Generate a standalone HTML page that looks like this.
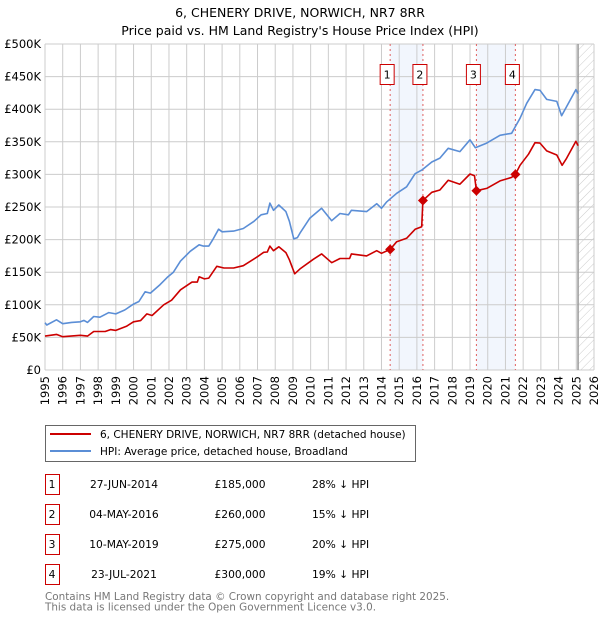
<!DOCTYPE html>
<html><head><meta charset="utf-8"><style>
body{margin:0;background:#fff;font-family:"DejaVu Sans","Liberation Sans",sans-serif;}
svg text{font-family:"DejaVu Sans","Liberation Sans",sans-serif;}
</style></head><body>
<svg id="chart" width="600" height="620" viewBox="0 0 600 620">
<defs>
<pattern id="hatch" width="6" height="6" patternUnits="userSpaceOnUse" patternTransform="rotate(45)">
<line x1="0" y1="0" x2="0" y2="6" stroke="#ccc" stroke-width="1"/>
</pattern>
</defs>
<text x="300" y="17" text-anchor="middle" font-size="12.5" fill="#000">6, CHENERY DRIVE, NORWICH, NR7 8RR</text>
<text x="300" y="35" text-anchor="middle" font-size="12.5" fill="#000">Price paid vs. HM Land Registry's House Price Index (HPI)</text>
<g id="plot"></g>
<g>
<rect x="45.5" y="425.5" width="370" height="36" fill="#fff" stroke="#666"/>
<line x1="50" y1="434" x2="91" y2="434" stroke="#cc0000" stroke-width="2"/>
<text x="100" y="438" font-size="10.5">6, CHENERY DRIVE, NORWICH, NR7 8RR (detached house)</text>
<line x1="50" y1="451" x2="91" y2="451" stroke="#5b8ed6" stroke-width="2"/>
<text x="100" y="455" font-size="10.5">HPI: Average price, detached house, Broadland</text>
</g>
<g id="table"></g>
<text x="45" y="600" font-size="10.4" fill="#777">Contains HM Land Registry data © Crown copyright and database right 2025.</text>
<text x="45" y="610.5" font-size="10.4" fill="#777">This data is licensed under the Open Government Licence v3.0.</text>
</svg>
<script>
const hpiYears=[1995,1995.1,1995.65,1996,1996.5,1997,1997.2,1997.4,1997.75,1998.1,1998.6,1999,1999.5,2000,2000.3,2000.65,2000.95,2001.5,2001.9,2002.25,2002.65,2003.2,2003.7,2003.95,2004.25,2004.5,2004.8,2005,2005.65,2006.2,2006.8,2007.2,2007.55,2007.7,2007.9,2008.2,2008.6,2008.8,2009.05,2009.25,2009.4,2009.96,2010.62,2011.19,2011.66,2012.13,2012.3,2013.16,2013.73,2014,2014.3,2014.86,2015.42,2015.9,2016.3,2016.84,2017.3,2017.77,2018.43,2019,2019.3,2019.94,2020.69,2021.35,2021.82,2022.2,2022.67,2022.95,2023.33,2023.9,2024.17,2024.45,2024.98,2025.1];
const hpiValues=[72.5,69,77,71,73,74,76,73,82,81,88,86,92,101,105,120,118,131,142,150,167,182,192,190,190,201,216,212,213,217,228,238,240,256,245,253,243,228,201,203,210,233,248,229,240,238,245,243,255,248,258,271,281,301,307,319,325,340,335,353,341,348,360,363,386,409,430,429,415,412,390,404,430,424];
const propYears=[1995,1995.65,1996,1997,1997.4,1997.75,1998.4,1998.7,1999,1999.6,2000,2000.4,2000.75,2001.05,2001.7,2002.15,2002.65,2003.3,2003.6,2003.7,2004,2004.25,2004.7,2005.1,2005.65,2006.2,2007,2007.35,2007.55,2007.7,2007.9,2008.2,2008.6,2008.8,2009.1,2009.4,2010.15,2010.62,2011.19,2011.66,2012.2,2012.3,2013.16,2013.73,2014,2014.49,2014.86,2015.42,2015.9,2016.27,2016.34,2016.84,2017.3,2017.77,2018.43,2019,2019.25,2019.36,2019.94,2020.69,2021.35,2021.56,2021.82,2022.3,2022.67,2022.95,2023.33,2023.9,2024.2,2024.45,2024.98,2025.1];
const propValues=[52,54.6,51,53.2,52,59,59,62,60.8,67,74,75.7,86,83.6,100,107,123,134.8,134.8,143,139.7,141,159,156.4,156.4,160,173.8,180.5,181,190,183,189,180,169,147.6,155,169.8,178,164.6,171,171,178,175,183,179,185,196.8,202,215.8,219.8,260,272.5,276,291,285,300.6,298,275,278.6,290,295.4,300,314,331,348.6,348,336,329.8,314,324.7,350.8,344];
const saleLabels=["1","2","3","4"];
const saleYears=[2014.49,2016.34,2019.36,2021.56];
const salePrices=[185,260,275,300];
const saleDates=["27-JUN-2014","04-MAY-2016","10-MAY-2019","23-JUL-2021"];
const salePriceText=["£185,000","£260,000","£275,000","£300,000"];
const saleHpiText=["28% ↓ HPI","15% ↓ HPI","20% ↓ HPI","19% ↓ HPI"];
const yTicks=[0,50,100,150,200,250,300,350,400,450,500];
const yTickLabels=["£0","£50K","£100K","£150K","£200K","£250K","£300K","£350K","£400K","£450K","£500K"];
const xTicks=[1995,1996,1997,1998,1999,2000,2001,2002,2003,2004,2005,2006,2007,2008,2009,2010,2011,2012,2013,2014,2015,2016,2017,2018,2019,2020,2021,2022,2023,2024,2025,2026];
const dataEnd=2025.1;

const X0=45,X1=594,Y0=370,Y1=44;
const xs=y=>X0+(y-1995)/(2026-1995)*(X1-X0);
const ys=v=>Y0-v/500*(Y0-Y1);
const NS="http://www.w3.org/2000/svg";
const plot=document.getElementById('plot');
function mk(tag,attrs,parent){const e=document.createElementNS(NS,tag);for(const k in attrs)e.setAttribute(k,attrs[k]);(parent||plot).appendChild(e);return e;}

for(let i=0;i<saleYears.length;i+=2){
  const r=mk('rect',{x:xs(saleYears[i]),y:Y1,width:xs(saleYears[i+1])-xs(saleYears[i]),height:Y0-Y1,fill:'#f2f6fd'});
  
  
}
const h=mk('rect',{x:xs(dataEnd),y:Y1,width:X1-xs(dataEnd),height:Y0-Y1,fill:'url(#hatch)'});


yTicks.forEach((t,i)=>{
  const l=mk('line',{x1:X0,x2:X1,y1:ys(t),y2:ys(t),stroke:'#cccccc','stroke-width':1});
  
  
  const tx=mk('text',{x:X0-4,y:ys(t)+4,'text-anchor':'end','font-size':'11.5',fill:'#000'});
  tx.textContent=yTickLabels[i];
  
  
});
xTicks.forEach(t=>{
  const l=mk('line',{x1:xs(t),x2:xs(t),y1:Y1,y2:Y0,stroke:'#cccccc','stroke-width':1});
  
  
  const tx=mk('text',{x:0,y:0,'text-anchor':'end','font-size':'11.5',fill:'#000',transform:`translate(${xs(t)+4},${Y0+6}) rotate(-90)`});
  tx.textContent=t;
  
  
});
const el=mk('line',{x1:xs(dataEnd),x2:xs(dataEnd),y1:Y1,y2:Y0,stroke:'#999','stroke-width':1.5});


saleYears.forEach((y,i)=>{
  const l=mk('line',{x1:xs(y),x2:xs(y),y1:Y1,y2:Y0,stroke:'#e06060','stroke-width':1,'stroke-dasharray':'2,3'});
  
  
});
function path(xsArr,vs,color,name){
  const d=xsArr.map((x,i)=>(i?'L':'M')+xs(x).toFixed(1)+','+ys(vs[i]).toFixed(1)).join('');
  const p=mk('path',{d:d,fill:'none',stroke:color,'stroke-width':1.6,'stroke-linejoin':'round'});
  
  
}
path(hpiYears,hpiValues,'#5b8ed6','hpi-line');
path(propYears,propValues,'#cc0000','property-line');
saleYears.forEach((y,i)=>{
  const cx=xs(y),cy=ys(salePrices[i]);
  const m=mk('path',{d:`M${cx},${cy-5}L${cx+5},${cy}L${cx},${cy+5}L${cx-5},${cy}Z`,fill:'#cc0000'});
  
  
  const b=mk('rect',{x:cx-10,y:64.5,width:14,height:20,fill:'#fff',stroke:'#cc0000'});
  
  
  const t=mk('text',{x:cx-3,y:78.5,'text-anchor':'middle','font-size':'11'});
  t.textContent=saleLabels[i];
  
  
});
const tb=document.getElementById('table');
saleLabels.forEach((s,i)=>{
  const cy=485+i*30;
  const b=mk('rect',{x:45.5,y:cy-10.5,width:14,height:20,fill:'#fff',stroke:'#cc0000'},tb);
  
  
  const cells=[[52,s,'middle'],[124,saleDates[i],'middle'],[240,salePriceText[i],'middle'],[312,saleHpiText[i],'start']];
  const names=['table-number','table-date','table-price','table-hpi-diff'];
  cells.forEach((c,j)=>{
    const t=mk('text',{x:c[0],y:cy+3,'text-anchor':c[2],'font-size':'10.7'},tb);
    t.textContent=c[1];
    
    
  });
});
</script>
</body></html>
